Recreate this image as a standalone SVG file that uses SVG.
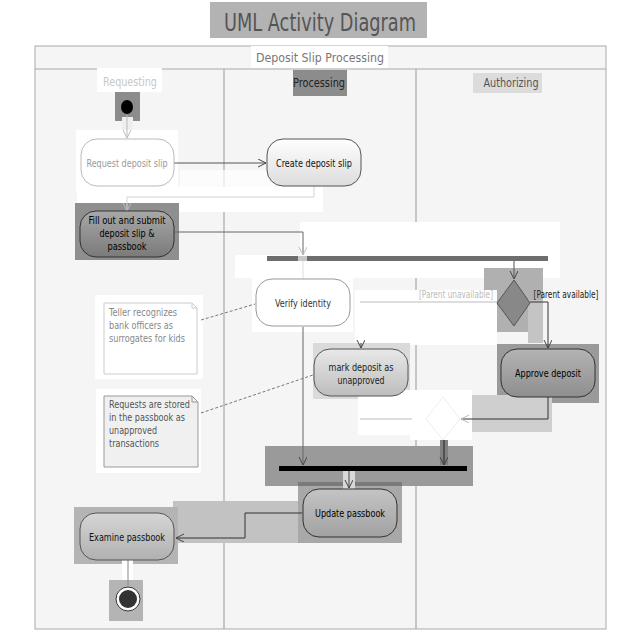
<svg xmlns="http://www.w3.org/2000/svg" width="640" height="640" viewBox="0 0 640 640">
<style>
text{font-family:"DejaVu Sans Condensed","DejaVu Sans",sans-serif;}
.lbl{font-size:11px;text-anchor:middle;}
.edge{fill:none;stroke-width:1;}
.dash{fill:none;stroke:#777;stroke-width:1;stroke-dasharray:3,2;}
.note{font-size:11px;}
.lane{font-size:12px;text-anchor:middle;}
</style>
<defs>
<linearGradient id="gWhite" x1="0" y1="0" x2="0" y2="1"><stop offset="0" stop-color="#ffffff"/><stop offset="1" stop-color="#dcdcdc"/></linearGradient>
<linearGradient id="gDark" x1="0" y1="0" x2="0" y2="1"><stop offset="0" stop-color="#a8a8a8"/><stop offset="1" stop-color="#7a7a7a"/></linearGradient>
<linearGradient id="gMid" x1="0" y1="0" x2="0" y2="1"><stop offset="0" stop-color="#e8e8e8"/><stop offset="1" stop-color="#bdbdbd"/></linearGradient>
<linearGradient id="gMid2" x1="0" y1="0" x2="0" y2="1"><stop offset="0" stop-color="#b4b4b4"/><stop offset="1" stop-color="#8e8e8e"/></linearGradient>
<linearGradient id="gMid3" x1="0" y1="0" x2="0" y2="1"><stop offset="0" stop-color="#c4c4c4"/><stop offset="1" stop-color="#a2a2a2"/></linearGradient>
<linearGradient id="gMid4" x1="0" y1="0" x2="0" y2="1"><stop offset="0" stop-color="#d6d6d6"/><stop offset="1" stop-color="#b0b0b0"/></linearGradient>
<marker id="arr" markerWidth="10" markerHeight="10" refX="8" refY="4" orient="auto" markerUnits="userSpaceOnUse"><path d="M0,0 L8,4 L0,8" fill="none" stroke="#444" stroke-width="1"/></marker>
<marker id="arrL" markerWidth="10" markerHeight="10" refX="8" refY="4" orient="auto" markerUnits="userSpaceOnUse"><path d="M0,0 L8,4 L0,8" fill="none" stroke="#bbb" stroke-width="1"/></marker>
</defs>
<rect x="0" y="0" width="640" height="640" fill="#ffffff"/>

<!-- title -->
<g id="title">
<rect x="210" y="2" width="217" height="36" fill="#b3b3b3"/>
<text x="320" y="31" font-size="25" text-anchor="middle" fill="#555" textLength="192" lengthAdjust="spacingAndGlyphs">UML Activity Diagram</text>
</g>

<!-- frame and lanes -->
<g id="frame">
<rect x="35" y="46" width="571" height="583" fill="#f5f5f5" stroke="#aaa" stroke-width="1"/>
<line x1="35" y1="69" x2="606" y2="69" stroke="#aaa"/>
<line x1="224" y1="69" x2="224" y2="629" stroke="#999"/>
<line x1="416" y1="69" x2="416" y2="629" stroke="#999"/>
<rect x="251" y="46" width="137" height="22" fill="#ffffff"/>
<text x="320" y="62" font-size="12.5" text-anchor="middle" fill="#777" textLength="128" lengthAdjust="spacingAndGlyphs">Deposit Slip Processing</text>
</g>
<g id="lane-requesting">
<rect x="97" y="68" width="65" height="24" fill="#ffffff"/>
<text class="lane" x="130" y="86" fill="#c8c8c8" textLength="54" lengthAdjust="spacingAndGlyphs">Requesting</text>
</g>
<g id="lane-processing">
<rect x="293" y="70" width="54" height="26" fill="#8c8c8c"/>
<text class="lane" x="319" y="87" fill="#222" textLength="52" lengthAdjust="spacingAndGlyphs">Processing</text>
</g>
<g id="lane-authorizing">
<rect x="473" y="73" width="69" height="20" fill="#dcdcdc"/>
<text class="lane" x="511" y="87" fill="#555" textLength="55" lengthAdjust="spacingAndGlyphs">Authorizing</text>
</g>

<!-- highlight boxes -->
<g id="boxes">
<rect x="115" y="92" width="25" height="29" fill="#8c8c8c"/>
<rect x="122" y="117" width="11" height="13" fill="#eeeeee"/>
<rect x="76" y="130" width="102" height="62" fill="#ffffff"/>
<rect x="77" y="187" width="246" height="25" fill="#ffffff"/>
<rect x="180" y="170" width="142" height="42" fill="#ffffff" opacity="0.7"/>
<rect x="75" y="203" width="104" height="57" fill="#8f8f8f"/>
<rect x="300" y="222" width="260" height="56" fill="#ffffff"/>
<rect x="235" y="255" width="65" height="23" fill="#ffffff"/>
<rect x="252" y="278" width="101" height="54" fill="#ffffff"/>
<rect x="484" y="268" width="59" height="64" fill="#b0b0b0"/>
<rect x="528" y="300" width="15" height="43" fill="#c4c4c4"/>
<rect x="355" y="290" width="142" height="55" fill="#ffffff"/>
<rect x="95" y="295" width="108" height="84" fill="#ffffff"/>
<rect x="313" y="343" width="97" height="56" fill="#dadada"/>
<rect x="497" y="344" width="102" height="59" fill="#9a9a9a"/>
<rect x="96" y="389" width="105" height="84" fill="#ffffff"/>
<rect x="472" y="395" width="80" height="37" fill="#cfcfcf"/>
<rect x="358" y="390" width="114" height="45" fill="#ffffff"/>
<rect x="410" y="390" width="62" height="50" fill="#ffffff"/>
<rect x="265" y="446" width="208" height="40" fill="#9a9a9a"/>
<rect x="440" y="440" width="8" height="25" fill="#808080"/>
<rect x="298" y="482" width="104" height="61" fill="#a8a8a8"/>
<rect x="298" y="482" width="104" height="4" fill="#7a7a7a"/>
<rect x="343" y="470" width="12" height="20" fill="#d8d8d8"/>
<rect x="173" y="501" width="125" height="42" fill="#c2c2c2"/>
<rect x="74" y="507" width="104" height="57" fill="#b4b4b4"/>
<rect x="122" y="556" width="11" height="24" fill="#ffffff"/>
<rect x="109" y="580" width="34" height="41" fill="#b4b4b4"/>
</g>

<!-- connectors -->
<g id="connectors">
<line class="edge" x1="127" y1="115" x2="127" y2="138" stroke="#bbb" marker-end="url(#arrL)"/>
<line class="edge" x1="174" y1="163" x2="266" y2="163" stroke="#555" marker-end="url(#arr)"/>
<polyline class="edge" points="314,186 314,197 127,197 127,211" stroke="#d4d4d4" marker-end="url(#arrL)"/>
<polyline class="edge" points="175,232 303,232 303,255" stroke="#666" marker-end="url(#arrL)"/>
<line class="edge" x1="303" y1="261" x2="303" y2="279" stroke="#ddd"/>
<line class="edge" x1="514" y1="261" x2="514" y2="279" stroke="#555" marker-end="url(#arr)"/>
<polyline class="edge" points="530,302 548,302 548,348" stroke="#333" marker-end="url(#arr)"/>
<line class="edge" x1="497" y1="302" x2="360" y2="302" stroke="#bbb"/>
<line class="edge" x1="361" y1="343" x2="361" y2="348" stroke="#444" marker-end="url(#arr)"/>
<line class="edge" x1="303" y1="327" x2="303" y2="465" stroke="#666" marker-end="url(#arr)"/>
<polyline class="edge" points="548,397 548,419 461,419" stroke="#333" marker-end="url(#arrL)"/>
<line class="edge" x1="360" y1="419" x2="412" y2="419" stroke="#bbb"/>
<line class="edge" x1="444" y1="440" x2="444" y2="465" stroke="#222" marker-end="url(#arr)"/>
<line class="edge" x1="349" y1="471" x2="349" y2="488" stroke="#444" marker-end="url(#arr)"/>
<polyline class="edge" points="302,513 245,513 245,538 176,538" stroke="#333" marker-end="url(#arr)"/>
<line class="edge" x1="128" y1="560" x2="128" y2="585" stroke="#888"/>
<line class="dash" x1="201" y1="320" x2="255" y2="304"/>
<line class="dash" x1="201" y1="413" x2="313" y2="375"/>
</g>

<!-- nodes -->
<g id="initial"><ellipse cx="127" cy="107" rx="6" ry="7" fill="#000"/></g>

<g id="request-deposit-slip">
<rect x="81" y="139" width="93" height="47" rx="16" fill="#ffffff" stroke="#bbb"/>
<text class="lbl" x="127" y="167" fill="#9a9a9a" textLength="81" lengthAdjust="spacingAndGlyphs">Request deposit slip</text>
</g>

<g id="create-deposit-slip">
<rect x="267" y="139" width="94" height="47" rx="16" fill="url(#gWhite)" stroke="#555"/>
<text class="lbl" x="314" y="167" fill="#111" textLength="76" lengthAdjust="spacingAndGlyphs">Create deposit slip</text>
</g>

<g id="fill-out">
<rect x="80" y="211" width="94" height="46" rx="16" fill="url(#gDark)" stroke="#333"/>
<text class="lbl" x="127" y="224" fill="#000" textLength="77" lengthAdjust="spacingAndGlyphs">Fill out and submit</text>
<text class="lbl" x="127" y="237" fill="#000" textLength="55" lengthAdjust="spacingAndGlyphs">deposit slip &amp;</text>
<text class="lbl" x="127" y="250" fill="#000" textLength="39" lengthAdjust="spacingAndGlyphs">passbook</text>
</g>

<g id="fork"><rect x="267" y="256" width="281" height="5" fill="#6e6e6e"/><rect x="298" y="256" width="9" height="5" fill="#c8c8c8"/></g>

<g id="verify-identity">
<rect x="256" y="279" width="94" height="47" rx="16" fill="#ffffff" stroke="#999"/>
<text class="lbl" x="303" y="307" fill="#333" textLength="56" lengthAdjust="spacingAndGlyphs">Verify identity</text>
</g>

<g id="decision">
<polygon points="514,280 530,303 514,326 497,303" fill="#888" stroke="#555"/>
<text x="456" y="298" font-size="10" text-anchor="middle" fill="#bbb" textLength="74" lengthAdjust="spacingAndGlyphs">[Parent unavailable]</text>
<text x="566" y="298" font-size="10" text-anchor="middle" fill="#222" textLength="65" lengthAdjust="spacingAndGlyphs">[Parent available]</text>
</g>

<g id="note-teller">
<path d="M104,303 H192 L197,308 V374 H104 Z" fill="#ffffff" stroke="#ccc"/>
<path d="M192,303 V308 H197" fill="none" stroke="#ccc"/>
<text class="note" x="109" y="316" fill="#888" textLength="68" lengthAdjust="spacingAndGlyphs">Teller recognizes</text>
<text class="note" x="109" y="329" fill="#888" textLength="64" lengthAdjust="spacingAndGlyphs">bank officers as</text>
<text class="note" x="109" y="342" fill="#888" textLength="76" lengthAdjust="spacingAndGlyphs">surrogates for kids</text>
</g>

<g id="mark-deposit">
<rect x="314" y="349" width="94" height="47" rx="16" fill="url(#gMid)" stroke="#555"/>
<text class="lbl" x="361" y="371" fill="#222" textLength="65" lengthAdjust="spacingAndGlyphs">mark deposit as</text>
<text class="lbl" x="361" y="384" fill="#222" textLength="47" lengthAdjust="spacingAndGlyphs">unapproved</text>
</g>

<g id="approve-deposit">
<rect x="501" y="349" width="94" height="48" rx="16" fill="url(#gMid2)" stroke="#333"/>
<text class="lbl" x="548" y="377" fill="#000" textLength="66" lengthAdjust="spacingAndGlyphs">Approve deposit</text>
</g>

<g id="note-requests">
<path d="M104,396 H192 L198,402 V467 H104 Z" fill="#f0f0f0" stroke="#999"/>
<path d="M192,396 V402 H198" fill="none" stroke="#999"/>
<text class="note" x="109" y="408" fill="#555" textLength="81" lengthAdjust="spacingAndGlyphs">Requests are stored</text>
<text class="note" x="109" y="421" fill="#555" textLength="76" lengthAdjust="spacingAndGlyphs">in the passbook as</text>
<text class="note" x="109" y="434" fill="#555" textLength="48" lengthAdjust="spacingAndGlyphs">unapproved</text>
<text class="note" x="109" y="447" fill="#555" textLength="50" lengthAdjust="spacingAndGlyphs">transactions</text>
</g>

<g id="merge"><polygon points="443,397 460,419 443,440 426,419" fill="#ffffff" stroke="#eee"/></g>

<g id="join"><rect x="279" y="466" width="188" height="5" fill="#000"/></g>

<g id="update-passbook">
<rect x="303" y="489" width="94" height="48" rx="16" fill="url(#gMid3)" stroke="#333"/>
<text class="lbl" x="350" y="517" fill="#000" textLength="70" lengthAdjust="spacingAndGlyphs">Update passbook</text>
</g>

<g id="examine-passbook">
<rect x="80" y="513" width="94" height="47" rx="16" fill="url(#gMid4)" stroke="#555"/>
<text class="lbl" x="127" y="541" fill="#111" textLength="76" lengthAdjust="spacingAndGlyphs">Examine passbook</text>
</g>

<g id="final">
<circle cx="128" cy="599" r="12" fill="#ffffff" stroke="#333"/>
<circle cx="128" cy="599" r="9" fill="#333"/>
</g>
</svg>
